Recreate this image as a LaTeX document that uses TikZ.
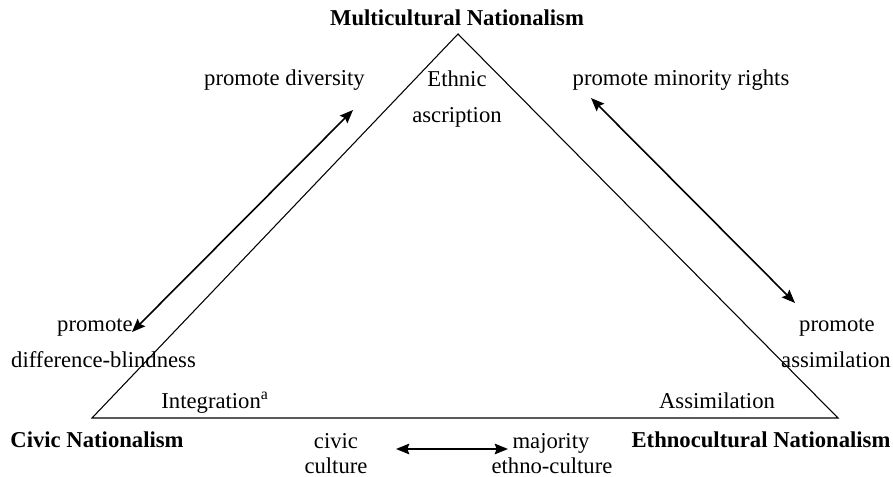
\documentclass[tikz,border=0pt]{standalone}
\usepackage{fontspec}
\setmainfont{Liberation Serif}
\usetikzlibrary{arrows.meta}

\begin{document}
\begin{tikzpicture}[x=0.75pt,y=0.75pt,yscale=-1,xscale=1,
  lbl/.style={anchor=base,inner sep=0pt,font=\fontsize{17}{20}\selectfont},
  ttl/.style={lbl,font=\fontsize{17}{20}\selectfont\bfseries},
  twoway/.style={{Stealth[length=10pt,width=8pt,inset=1.5pt]}-{Stealth[length=10pt,width=8pt,inset=1.5pt]},line width=1.2pt}]
\useasboundingbox (0,0) rectangle (893,477);

%Corners of the triangle
\coordinate (top) at (458,34);
\coordinate (lft) at (92,418);
\coordinate (rgt) at (838,418);

%Shape: Triangle
\draw [line width=0.8pt,line join=miter] (top) -- (rgt) -- (lft) -- cycle ;

%Arrow ends
\coordinate (divA) at (353,110);
\coordinate (divB) at (132,332);
\coordinate (minA) at (591,98);
\coordinate (minB) at (795,303);
\coordinate (culA) at (396,449);
\coordinate (culB) at (508,449);

%Straight Lines
\draw [twoway] (divB) -- (divA) ;
\draw [twoway] (minA) -- (minB) ;
\draw [twoway] (culA) -- (culB) ;

% Text Node
\node [ttl] (multi) at (457,26) {Multicultural Nationalism};
% Text Node
\node [ttl] (civic) at (97,447) {Civic Nationalism};
% Text Node
\node [ttl] (ethno) at (761,447) {Ethnocultural Nationalism};
% Text Node
\node [lbl] (diversity) at (284.5,86) {promote diversity};
% Text Node
\node [lbl] (rights) at (681,86) {promote minority rights};
% Text Node
\node [lbl] (ethnic) at (457,87) {Ethnic};
\node [lbl] (ascript) at (457,123) {ascription};
% Text Node
\node [lbl] (blindA) at (95,332) {promote};
\node [lbl] (blindB) at (103.5,368) {difference-blindness};
% Text Node
\node [lbl] (assimA) at (837,332) {promote};
\node [lbl] (assimB) at (836,368) {assimilation};
% Text Node
\node [lbl] (integ) at (215,408) {Integration\textsuperscript{a}};
% Text Node
\node [lbl] (assim) at (717,408) {Assimilation};
% Text Node
\node [lbl] (civA) at (336,448) {civic};
\node [lbl] (civB) at (336,474) {culture};
% Text Node
\node [lbl] (majA) at (551,448) {majority};
\node [lbl] (majB) at (552,474) {ethno-culture};

\end{tikzpicture}
\end{document}
